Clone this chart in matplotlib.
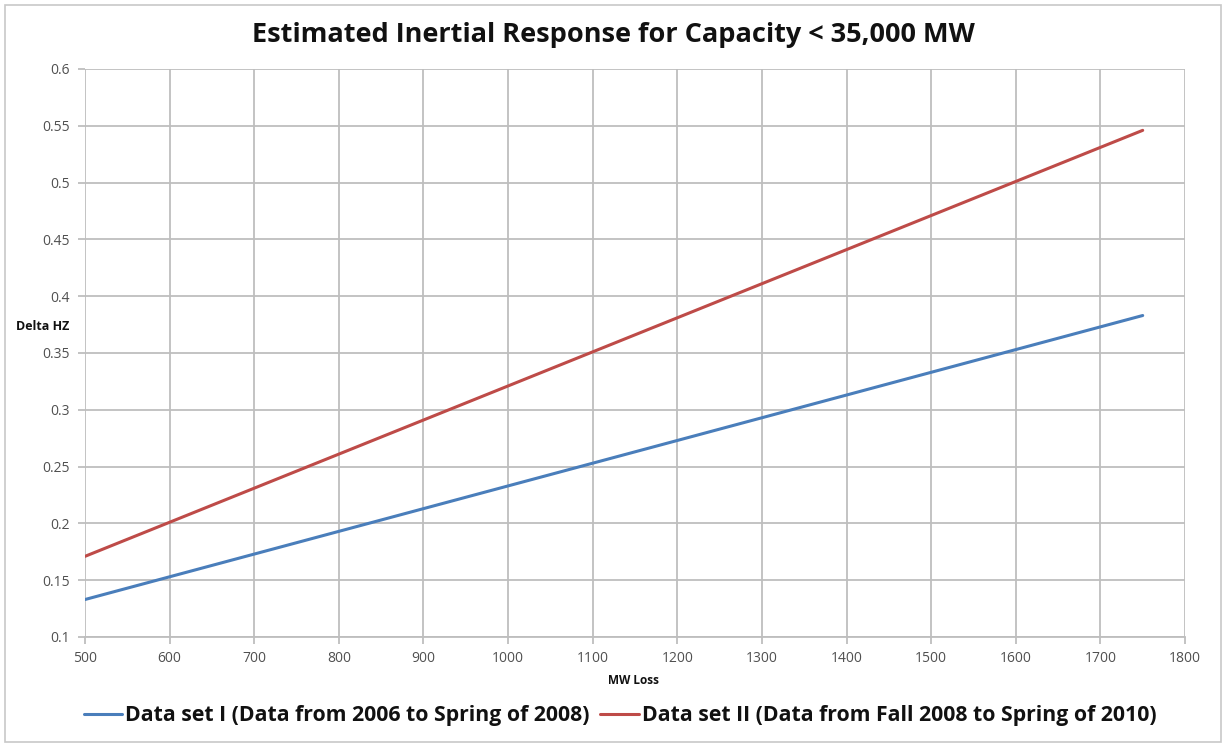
import matplotlib
matplotlib.use("Agg")
import matplotlib.pyplot as plt
from matplotlib.patches import Rectangle

plt.rcParams['font.family'] = ['Open Sans', 'DejaVu Sans']

mw_loss = [500, 600, 700, 800, 900, 1000, 1100, 1200, 1300, 1400, 1500, 1600, 1700, 1750]
set1 = [0.133, 0.153, 0.173, 0.193, 0.213, 0.233, 0.253, 0.273, 0.293, 0.313, 0.333, 0.353, 0.373, 0.383]
set2 = [0.171, 0.201, 0.231, 0.261, 0.291, 0.321, 0.351, 0.381, 0.411, 0.441, 0.471, 0.501, 0.531, 0.546]
label1 = "Data set I (Data from 2006 to Spring of 2008)"
label2 = "Data set II (Data from Fall 2008 to Spring of 2010)"
title = "Estimated Inertial Response for Capacity < 35,000 MW"
xticks = list(range(500, 1801, 100))
yticks = [0.1, 0.15, 0.2, 0.25, 0.3, 0.35, 0.4, 0.45, 0.5, 0.55, 0.6]
ytick_labels = ["0.1", "0.15", "0.2", "0.25", "0.3", "0.35", "0.4", "0.45", "0.5", "0.55", "0.6"]

fig = plt.figure(figsize=(12.25, 7.47), dpi=100)
ax = fig.add_axes([85/1225, 1-637/747, 1100/1225, 568/747])

grid_c = '#BEBEBE'
ax.plot(mw_loss, set1, color='#4A7EBB', lw=2.2, label=label1, solid_capstyle='round')
ax.plot(mw_loss, set2, color='#BE4B48', lw=2.2, label=label2, solid_capstyle='round')

ax.set_xlim(500, 1800)
ax.set_ylim(0.1, 0.6)
ax.set_xticks(xticks)
ax.set_yticks(yticks)
ax.set_yticklabels(ytick_labels)
ax.grid(True, color=grid_c, lw=1.3)
ax.set_axisbelow(True)
for s in ['top', 'right', 'left']:
    ax.spines[s].set_visible(False)
ax.spines['bottom'].set_color(grid_c)
ax.spines['bottom'].set_linewidth(1.3)
ax.tick_params(axis='both', colors=grid_c, labelcolor='#505050', labelsize=10, length=5, width=1.3)
ax.tick_params(axis='x', pad=5)
ax.tick_params(axis='y', pad=6)

fig.text(613/1225, 1-35/747, title, ha='center', va='center', fontsize=19.5, fontweight='bold', color='#111111')
fig.text(43/1225, 1-327/747, "Delta HZ", ha='center', va='center', fontsize=9, fontweight='bold', color='#111111')
fig.text(634/1225, 1-680/747, "MW Loss", ha='center', va='center', fontsize=8.5, fontweight='bold', color='#111111')

leg = fig.legend(loc='center', bbox_to_anchor=(620/1225, 1-716/747), ncol=2, frameon=False,
                 prop={'size': 15.3, 'weight': 'bold'}, handlelength=1.8, handletextpad=0.15,
                 columnspacing=0.5)
for t in leg.get_texts():
    t.set_color('#111111')

fig.patches.append(Rectangle((5/1225, 5/747), 1216/1225, 737/747, transform=fig.transFigure,
                             fill=False, edgecolor='#C8C8C8', lw=1.2))

fig.savefig('out.png', dpi=100)
